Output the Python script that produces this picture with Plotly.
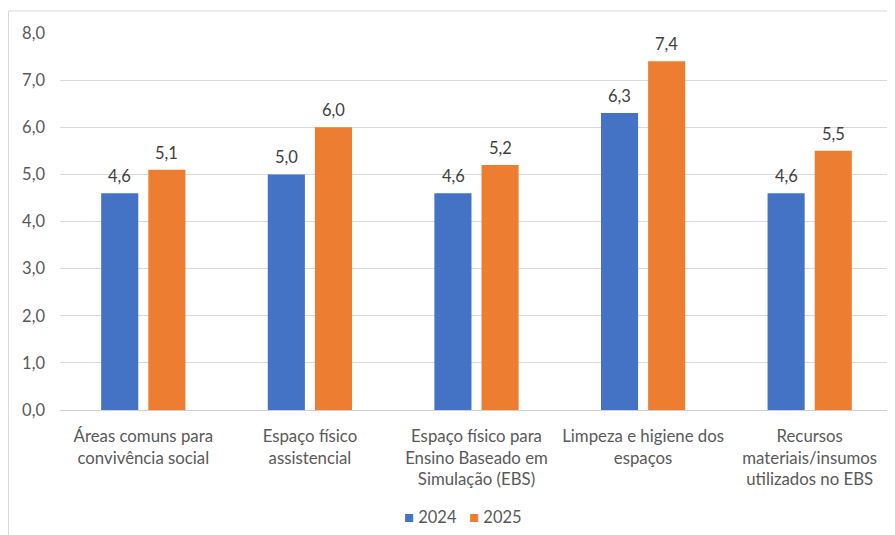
import plotly.graph_objects as go

categories = [
    "Áreas comuns para<br>convivência social",
    "Espaço físico<br>assistencial",
    "Espaço físico para<br>Ensino Baseado em<br>Simulação (EBS)",
    "Limpeza e higiene dos<br>espaços",
    "Recursos<br>materiais/insumos<br>utilizados no EBS",
]
values_2024 = [4.6, 5.0, 4.6, 6.3, 4.6]
values_2025 = [5.1, 6.0, 5.2, 7.4, 5.5]
series_names = ["2024", "2025"]
series_colors = ["#4472C4", "#ED7D31"]
y_ticks = [0, 1, 2, 3, 4, 5, 6, 7, 8]

# the page body adds an 8px offset; work in page pixels and convert
OFF = 8
W, H = 895 - OFF, 535 - OFF
PL, PR, PT, PB = 60, 893, 33, 410  # plot area in page pixels
ML = PL - OFF
MR = W - (PR - OFF)
MT = PT - OFF
MB = H - (PB - OFF)
pw = W - ML - MR
ph = H - MT - MB

def px_x(p):
    return (p - OFF - ML) / pw

def px_y(p):
    return (H - MB - (p - OFF)) / ph

font_family = "Lato, Carlito, 'Liberation Sans', sans-serif"
gray_text = "#595959"

fig = go.Figure()
for name, vals, color in zip(series_names, [values_2024, values_2025], series_colors):
    fig.add_trace(go.Bar(
        x=categories, y=vals, name=name,
        marker=dict(color=color, line=dict(width=0)),
        showlegend=False,
    ))

annotations = []
for shift, vals in [(-23.5, values_2024), (23.5, values_2025)]:
    for c, v in zip(categories, vals):
        annotations.append(dict(
            x=c, y=v, xref="x", yref="y", text=f"{v:.1f}".replace(".", ","),
            showarrow=False, xshift=shift, yshift=17, yanchor="middle",
            font=dict(size=16.5, color="#404040", family=font_family),
        ))

legend_text = (
    f"<span style='color:{series_colors[0]}'>■</span> {series_names[0]}"
    f"   <span style='color:{series_colors[1]}'>■</span> {series_names[1]}"
)
annotations.append(dict(
    x=px_x(463), y=px_y(517), xref="paper", yref="paper",
    text=legend_text, showarrow=False, xanchor="center", yanchor="middle",
    font=dict(size=16.5, color=gray_text, family=font_family),
))

fig.update_layout(
    width=W, height=H,
    margin=dict(l=ML, r=MR, t=MT, b=MB, autoexpand=False),
    paper_bgcolor="white", plot_bgcolor="white",
    separators=",.",
    barmode="group", bargap=0.434, bargroupgap=0.213,
    font=dict(family=font_family, color=gray_text, size=16.5),
    showlegend=False,
    xaxis=dict(showgrid=False, ticks="", showline=False, automargin=False,
               ticklabelstandoff=14,
               tickfont=dict(size=16.8, color=gray_text)),
    yaxis=dict(range=[0, 8], tickvals=y_ticks, tickformat=".1f",
               showgrid=True, gridcolor="#D9D9D9", gridwidth=1,
               zeroline=True, zerolinecolor="#CFCFCF", zerolinewidth=1.3,
               showline=False, ticks="", automargin=False,
               ticklabelstandoff=14,
               tickfont=dict(size=16.5, color=gray_text)),
    annotations=annotations,
    shapes=[
        dict(type="line", xref="paper", yref="paper",
             x0=px_x(8.5), x1=px_x(8.5), y0=px_y(11), y1=px_y(545),
             line=dict(color="#D9D9D9", width=1)),
        dict(type="line", xref="paper", yref="paper",
             x0=px_x(8.5), x1=px_x(900), y0=px_y(11), y1=px_y(11),
             line=dict(color="#D9D9D9", width=1)),
    ],
)

fig.write_html("out.html")
